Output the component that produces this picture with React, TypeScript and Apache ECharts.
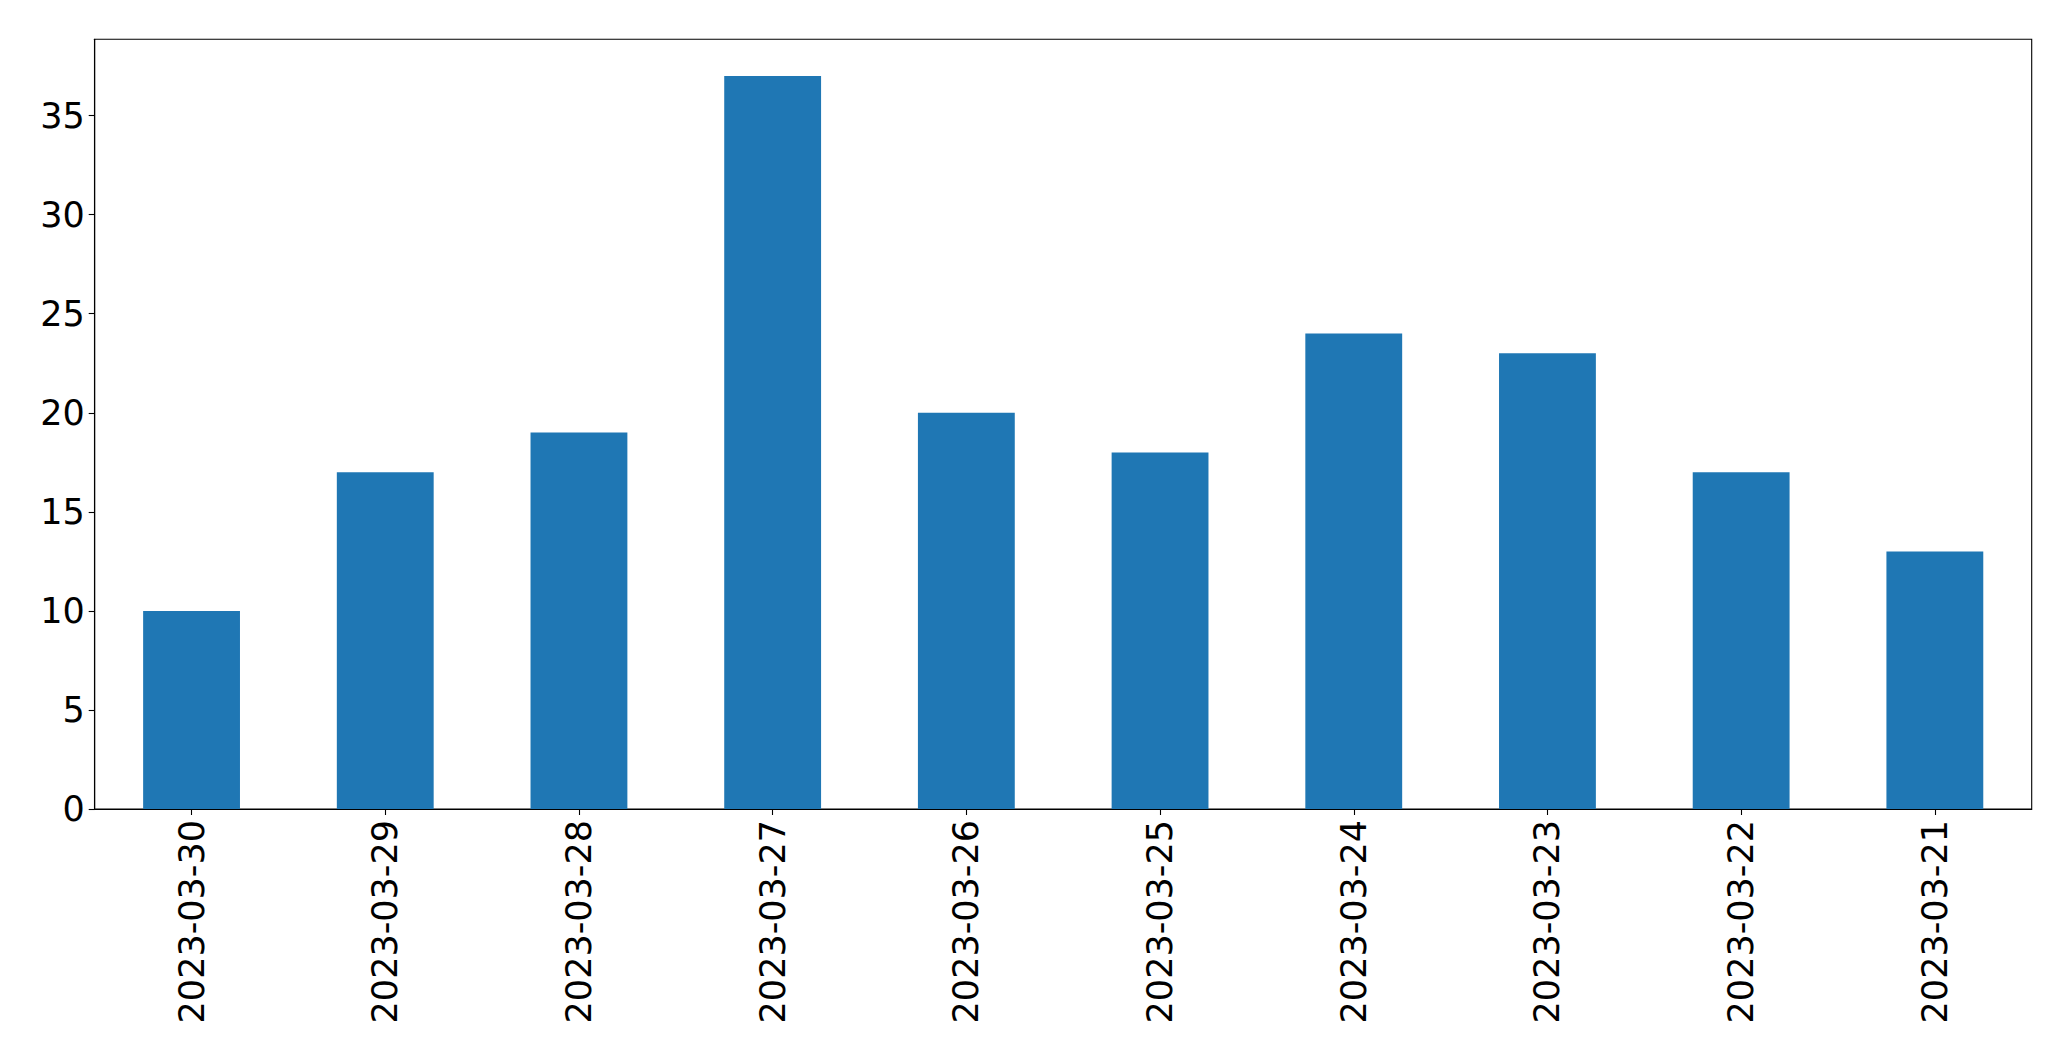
import React, { useEffect, useRef } from "react";
import * as echarts from "echarts";

const categories = [
  "2023-03-30",
  "2023-03-29",
  "2023-03-28",
  "2023-03-27",
  "2023-03-26",
  "2023-03-25",
  "2023-03-24",
  "2023-03-23",
  "2023-03-22",
  "2023-03-21",
];
const values = [10, 17, 19, 37, 20, 18, 24, 23, 17, 13];
const yTicks = [0, 5, 10, 15, 20, 25, 30, 35];
const yMax = 38.85;

export default function App() {
  const ref = useRef<HTMLDivElement>(null);
  useEffect(() => {
    if (!ref.current) return;
    const chart = echarts.init(ref.current, null, { renderer: "svg" });
    const font = "DejaVu Sans";
    chart.setOption({
      animation: false,
      backgroundColor: "#ffffff",
      grid: {
        left: 94.7,
        top: 39.3,
        right: 39.3,
        bottom: 252,
        show: true,
        borderColor: "#000000",
        borderWidth: 1.1,
        backgroundColor: "transparent",
        containLabel: false,
      },
      xAxis: {
        type: "category",
        data: categories,
        boundaryGap: true,
        axisLine: { show: true, lineStyle: { color: "#000000", width: 1.1 } },
        axisTick: {
          show: true,
          alignWithLabel: true,
          length: 6,
          lineStyle: { color: "#000000", width: 1.1 },
        },
        axisLabel: {
          rotate: 90,
          fontSize: 35,
          fontFamily: font,
          color: "#000000",
          margin: 11,
          interval: 0,
        },
        splitLine: { show: false },
      },
      yAxis: {
        type: "value",
        min: 0,
        max: yMax,
        interval: 5,
        axisLine: { show: true, lineStyle: { color: "#000000", width: 1.1 } },
        axisTick: {
          show: true,
          length: 6,
          lineStyle: { color: "#000000", width: 1.1 },
          customValues: yTicks,
        },
        axisLabel: {
          fontSize: 35,
          fontFamily: font,
          color: "#000000",
          margin: 10,
          customValues: yTicks,
        },
        splitLine: { show: false },
      },
      series: [
        {
          type: "bar",
          data: values,
          barWidth: "50%",
          itemStyle: { color: "#1f77b4" },
        },
      ],
    });
    return () => chart.dispose();
  }, []);
  return (
    <div
      ref={ref}
      style={{ position: "fixed", left: 0, top: 0, width: 2071, height: 1061, background: "#fff" }}
    />
  );
}
